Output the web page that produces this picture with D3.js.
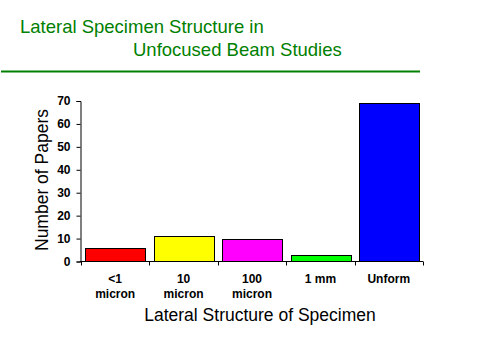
<!DOCTYPE html>
<html><head><meta charset="utf-8">
<script src="https://cdn.jsdelivr.net/npm/d3@7"></script>
<style>body{margin:0;background:#fff}svg{display:block}</style>
</head><body>
<script>
const categories = [["<1","micron"],["10","micron"],["100","micron"],["1 mm"],["Unform"]];
const values = [6, 11, 10, 3, 69];
const colors = ["#ff0000","#ffff00","#ff00ff","#00ff00","#0000ff"];
const yTicks = [0,10,20,30,40,50,60,70];
const titleLines = ["Lateral Specimen Structure in","Unfocused Beam Studies"];
const xTitle = "Lateral Structure of Specimen";
const yTitle = "Number of Papers";

const svg = d3.select("body").append("svg").attr("width",480).attr("height",360);
const font = "Arial, 'Liberation Sans', sans-serif";

svg.append("text").attr("x",20).attr("y",33).attr("fill","#008000")
  .attr("font-family",font).attr("font-size",18.5).text(titleLines[0]);
svg.append("text").attr("x",133).attr("y",56).attr("fill","#008000")
  .attr("font-family",font).attr("font-size",18.5).text(titleLines[1]);
svg.append("rect").attr("x",1).attr("y",70.5).attr("width",419).attr("height",2).attr("fill","#008000");

const x = d3.scaleBand().domain(d3.range(values.length)).range([81,423]).paddingInner(0.13).paddingOuter(0.065);
const xb = d3.scaleBand().domain(d3.range(values.length)).range([81,423]);
const y = d3.scaleLinear().domain([0,70]).range([261.5,101]);

const g = svg.append("g");
g.selectAll("rect.bar").data(values).join("rect").attr("class","bar")
  .attr("x",(d,i)=>Math.round(x(i))+0.5).attr("width",Math.round(x.bandwidth()))
  .attr("y",d=>Math.round(y(d))+0.5).attr("height",d=>y(0)-Math.round(y(d))-0.5)
  .attr("fill",(d,i)=>colors[i]).attr("stroke","#000").attr("stroke-width",1);

// y axis
const ya = svg.append("g").attr("transform","translate(80.5,0)")
  .call(d3.axisLeft(y).tickValues(yTicks).tickSize(4).tickPadding(6).tickFormat(d3.format("d")));
ya.select(".domain").attr("stroke","#000").attr("stroke-width",1);
ya.selectAll("text").attr("font-family",font).attr("font-size",12).attr("font-weight","bold").attr("fill","#000");

// x axis
const xa = svg.append("g").attr("transform","translate(0,261.5)");
xa.append("line").attr("x1",80).attr("x2",423).attr("stroke","#000");
xa.selectAll("line.tick").data(d3.range(values.length+1)).join("line").attr("class","tick")
  .attr("x1",i=>Math.round(i<values.length?xb(i):423)+0.5).attr("x2",i=>Math.round(i<values.length?xb(i):423)+0.5)
  .attr("y1",0).attr("y2",4).attr("stroke","#000");

const lab = svg.append("g");
categories.forEach((c,i)=>{
  const t = lab.append("text").attr("text-anchor","middle").attr("font-family",font)
    .attr("font-size",12).attr("font-weight","bold").attr("x",xb(i)+xb.bandwidth()/2);
  c.forEach((s,j)=>t.append("tspan").attr("x",xb(i)+xb.bandwidth()/2).attr("y",283+j*15).text(s));
});

svg.append("text").attr("x",260).attr("y",321).attr("text-anchor","middle")
  .attr("font-family",font).attr("font-size",17.5).text(xTitle);
svg.append("text").attr("transform","translate(48,180) rotate(-90)").attr("text-anchor","middle")
  .attr("font-family",font).attr("font-size",17.5).text(yTitle);
</script>
</body></html>
